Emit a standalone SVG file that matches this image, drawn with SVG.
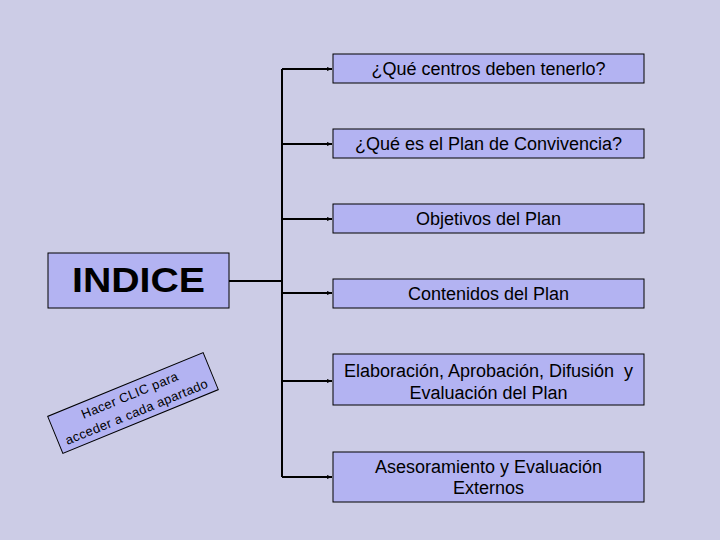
<svg xmlns="http://www.w3.org/2000/svg" width="720" height="540" viewBox="0 0 720 540">
<defs>
<marker id="arr" markerWidth="6" markerHeight="6" refX="5" refY="3" orient="auto" markerUnits="userSpaceOnUse">
<path d="M0,1 L5,3 L0,5 Z" fill="#000"/>
</marker>
<style>
.box{fill:#B3B3F2;stroke:#000;stroke-width:1}
.t{font-family:"Liberation Sans",Arial,sans-serif;font-size:18px;fill:#000;text-anchor:middle}
.c{fill:none;stroke:#000;stroke-width:2}
</style>
</defs>
<rect width="720" height="540" fill="#CCCCE6"/>
<g id="connectors">
<path class="c" d="M229,281 H282"/>
<path class="c" d="M282,69 V477"/>
<path class="c" d="M282,69 H332" marker-end="url(#arr)"/>
<path class="c" d="M282,144 H332" marker-end="url(#arr)"/>
<path class="c" d="M282,219 H332" marker-end="url(#arr)"/>
<path class="c" d="M282,293 H332" marker-end="url(#arr)"/>
<path class="c" d="M282,381 H332" marker-end="url(#arr)"/>
<path class="c" d="M282,477 H332" marker-end="url(#arr)"/>
</g>
<g id="indice">
<rect class="box" x="48" y="253" width="181" height="55"/>
<text x="138.5" y="292" font-family="'Liberation Sans',Arial,sans-serif" font-size="35" font-weight="bold" text-anchor="middle" textLength="133" lengthAdjust="spacingAndGlyphs">INDICE</text>
</g>
<g id="nota" transform="translate(133,403) rotate(-22.3)">
<rect class="box" x="-84" y="-20" width="168" height="40"/>
<text class="t" x="0" y="-4" style="font-size:13px;letter-spacing:0.4px">Hacer CLIC para</text>
<text class="t" x="0" y="14" style="font-size:13px;letter-spacing:0.4px">acceder a cada apartado</text>
</g>
<g id="n1">
<rect class="box" x="333" y="54" width="311" height="29"/>
<text class="t" x="488.5" y="75">¿Qué centros deben tenerlo?</text>
</g>
<g id="n2">
<rect class="box" x="333" y="129" width="311" height="29"/>
<text class="t" x="488.5" y="150">¿Qué es el Plan de Convivencia?</text>
</g>
<g id="n3">
<rect class="box" x="333" y="204" width="311" height="29"/>
<text class="t" x="488.5" y="225">Objetivos del Plan</text>
</g>
<g id="n4">
<rect class="box" x="333" y="279" width="311" height="29"/>
<text class="t" x="488.5" y="300">Contenidos del Plan</text>
</g>
<g id="n5">
<rect class="box" x="333" y="354" width="311" height="51"/>
<text class="t" x="488.5" y="377" xml:space="preserve">Elaboración, Aprobación, Difusión  y</text>
<text class="t" x="488.5" y="399">Evaluación del Plan</text>
</g>
<g id="n6">
<rect class="box" x="333" y="452" width="311" height="50"/>
<text class="t" x="488.5" y="473">Asesoramiento y Evaluación</text>
<text class="t" x="488.5" y="494">Externos</text>
</g>
</svg>
